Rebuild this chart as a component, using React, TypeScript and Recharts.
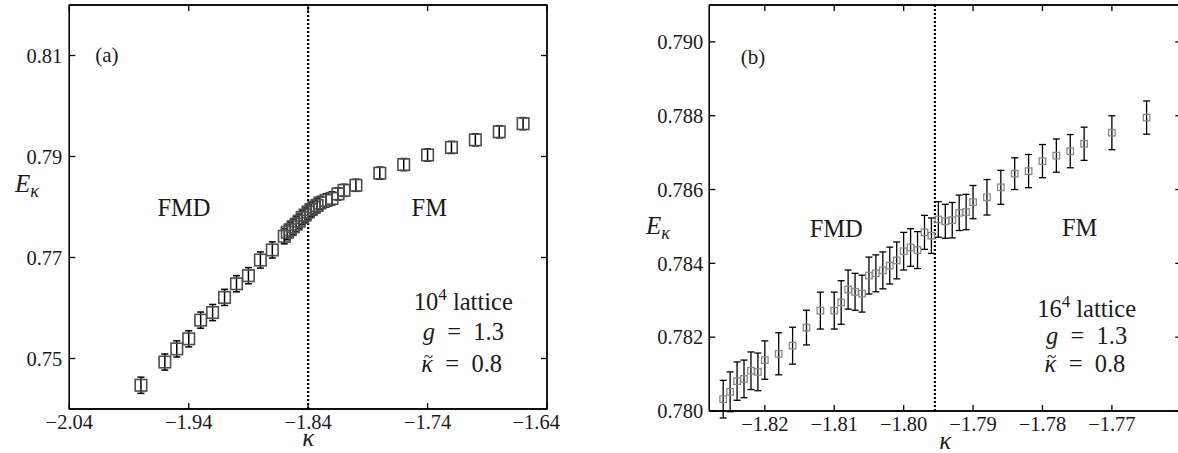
import React from 'react';
import { ScatterChart, Scatter, XAxis, YAxis, ErrorBar, ReferenceLine, ReferenceDot, ReferenceArea } from 'recharts';

// (a) 10^4 lattice
const kappaA = [-1.98, -1.96, -1.95, -1.94, -1.93, -1.92, -1.91, -1.90, -1.89, -1.88, -1.87, -1.86,
  -1.8575, -1.855, -1.8525, -1.85, -1.8475, -1.845, -1.8425, -1.84, -1.8375, -1.835, -1.8325, -1.83,
  -1.825, -1.82, -1.815, -1.81, -1.80, -1.78, -1.76, -1.74, -1.72, -1.70, -1.68, -1.66];
const energyA = [0.7447, 0.7493, 0.7519, 0.7539, 0.7576, 0.7591, 0.7621, 0.7648, 0.7664, 0.7695, 0.7715, 0.7742,
  0.7750, 0.7755, 0.7761, 0.7766, 0.7772, 0.7779, 0.7784, 0.7790, 0.7795, 0.7799, 0.7803, 0.7808,
  0.7813, 0.7817, 0.7826, 0.7833, 0.7843, 0.7867, 0.7884, 0.7903, 0.7918, 0.7933, 0.7949, 0.7965];
const errorA = [0.0016, 0.0016, 0.0016, 0.0016, 0.0016, 0.0016, 0.0016, 0.0016, 0.0016, 0.0016, 0.0016, 0.0015,
  0.0015, 0.0015, 0.0015, 0.0015, 0.0014, 0.0014, 0.0014, 0.0014, 0.0014, 0.0013, 0.0013, 0.0013,
  0.0013, 0.0013, 0.0012, 0.0012, 0.0012, 0.0012, 0.0012, 0.0012, 0.0012, 0.0012, 0.0012, 0.0012];

// (b) 16^4 lattice
const kappaB = [-1.826, -1.825, -1.824, -1.823, -1.822, -1.821, -1.820, -1.818, -1.816, -1.814, -1.812, -1.810,
  -1.809, -1.808, -1.807, -1.806, -1.805, -1.804, -1.803, -1.802, -1.801, -1.800, -1.799, -1.798,
  -1.797, -1.796, -1.795, -1.794, -1.793, -1.792, -1.791, -1.790, -1.788, -1.786, -1.784, -1.782,
  -1.780, -1.778, -1.776, -1.774, -1.770, -1.765];
const energyB = [0.78032, 0.78052, 0.78081, 0.78087, 0.78109, 0.78106, 0.78138, 0.78155, 0.78177, 0.78226, 0.78272, 0.78272,
  0.78294, 0.78329, 0.78323, 0.78318, 0.78367, 0.78373, 0.78381, 0.78394, 0.78408, 0.78433, 0.78443, 0.78436,
  0.78484, 0.78475, 0.78519, 0.78514, 0.78517, 0.78537, 0.78539, 0.78566, 0.78579, 0.78606, 0.78643, 0.78650,
  0.78677, 0.78692, 0.78704, 0.78724, 0.78754, 0.78795];
const errorB = [0.00051, 0.00054, 0.00052, 0.00051, 0.00051, 0.00051, 0.00052, 0.00057, 0.00050, 0.00047, 0.00050, 0.00050,
  0.00059, 0.00053, 0.00050, 0.00050, 0.00050, 0.00050, 0.00050, 0.00050, 0.00050, 0.00051, 0.00051, 0.00050,
  0.00046, 0.00048, 0.00048, 0.00046, 0.00048, 0.00048, 0.00048, 0.00045, 0.00048, 0.00046, 0.00043, 0.00045,
  0.00045, 0.00045, 0.00045, 0.00045, 0.00046, 0.00045];

const xTicksA = [-2.04, -1.94, -1.84, -1.74, -1.64];
const yTicksA = [0.75, 0.77, 0.79, 0.81];
const xTicksB = [-1.82, -1.81, -1.80, -1.79, -1.78, -1.77];
const yTicksB = [0.780, 0.782, 0.784, 0.786, 0.788, 0.790];

const transitionA = -1.84;
const transitionB = -1.7955;

const SERIF = '"Liberation Serif", "Times New Roman", serif';
const INK = '#1a1a1a';
const NB = '\u00A0';

const dataA = kappaA.map((k, i) => ({ x: k, y: energyA[i], err: errorA[i] }));
const dataB = kappaB.map((k, i) => ({ x: k, y: energyB[i], err: errorB[i] }));

const fmt = (digits: number) => (v: number) => v.toFixed(digits).replace('-', '\u2212');

const square = (size: number, color: string, sw: number) => (props: any) => (
  <rect x={props.cx - size / 2} y={props.cy - size / 2} width={size} height={size} fill="none" stroke={color} strokeWidth={sw} />
);
const nothing = () => <g />;

// text anchored at a reference dot (baseline at the dot)
const textAt = (kind: string, value: string) => (props: any) => {
  const { x, y } = props.viewBox;
  const common = { fontFamily: SERIF, fill: INK, fontSize: 24.5 };
  if (kind === 'lattice') {
    return (
      <text x={x} y={y} textAnchor="middle" {...common}>
        {value}<tspan fontSize={17} dy={-10}>4</tspan><tspan dy={10}>{NB}lattice</tspan>
      </text>
    );
  }
  if (kind === 'g') {
    return (
      <text x={x} y={y} textAnchor="middle" {...common}>
        <tspan fontStyle="italic">g</tspan>{NB}{NB}={NB}{NB}{value}
      </text>
    );
  }
  if (kind === 'kt') {
    const x0 = x - 42;
    return (
      <g>
        <text x={x0} y={y} textAnchor="start" {...common}>
          <tspan fontStyle="italic">{'\u03BA'}</tspan>{NB}{NB}={NB}{NB}{value}
        </text>
        <text x={x0 + 7} y={y - 10} textAnchor="middle" {...common} fontSize={17}>~</text>
      </g>
    );
  }
  return <text x={x} y={y} textAnchor="middle" {...common} fontSize={kind === 'tag' ? 21 : 24.5}>{value}</text>;
};

const yLabel = (dx: number, dy: number) => (props: any) => (
  <text x={props.viewBox.x + dx} y={props.viewBox.y + dy} textAnchor="middle" fontFamily={SERIF} fill={INK} fontSize={25} fontStyle="italic">
    E<tspan fontSize={18} dy={5}>{'\u03BA'}</tspan>
  </text>
);

const xLabel = (dy: number) => (props: any) => (
  <text x={props.viewBox.x + props.viewBox.width / 2} y={props.viewBox.y + dy} textAnchor="middle" fontFamily={SERIF} fill={INK} fontSize={25} fontStyle="italic">
    {'\u03BA'}
  </text>
);

interface Note { x: number; y: number; kind: string; value: string }

const notesA: Note[] = [
  { x: -2.0085, y: 0.80871, kind: 'tag', value: '(a)' },
  { x: -1.944, y: 0.77828, kind: 'plain', value: 'FMD' },
  { x: -1.7386, y: 0.77828, kind: 'plain', value: 'FM' },
  { x: -1.7101, y: 0.7596, kind: 'lattice', value: '10' },
  { x: -1.7101, y: 0.75366, kind: 'g', value: '1.3' },
  { x: -1.7101, y: 0.74739, kind: 'kt', value: '0.8' },
];

const notesB: Note[] = [
  { x: -1.82169, y: 0.789404, kind: 'tag', value: '(b)' },
  { x: -1.80972, y: 0.784724, kind: 'plain', value: 'FMD' },
  { x: -1.77465, y: 0.784743, kind: 'plain', value: 'FM' },
  { x: -1.77364, y: 0.782556, kind: 'lattice', value: '16' },
  { x: -1.77364, y: 0.781816, kind: 'g', value: '1.3' },
  { x: -1.77364, y: 0.781065, kind: 'kt', value: '0.8' },
];

interface PanelProps {
  left: number;
  width: number;
  marginRight: number;
  xAxisHeight: number;
  data: { x: number; y: number; err: number }[];
  xDomain: [number, number];
  yDomain: [number, number];
  xTicks: number[];
  yTicks: number[];
  xDigits: number;
  yDigits: number;
  yTickMargin: number;
  transition: number;
  markerSize: number;
  markerColor: string;
  markerWidth: number;
  barWidth: number;
  notes: Note[];
  yLabelPos: [number, number];
  xLabelDy: number;
}

function Panel(p: PanelProps) {
  const axisStyle = { stroke: '#000', strokeWidth: 1.3 };
  const tickStyle = { fontSize: 20.5, fontFamily: SERIF, fill: INK };
  return (
    <div style={{ position: 'absolute', left: p.left, top: 0 }}>
      <ScatterChart width={p.width} height={453} margin={{ top: 2, right: p.marginRight, bottom: 0, left: 0 }}>
        <XAxis xAxisId="b" type="number" dataKey="x" domain={p.xDomain} ticks={p.xTicks} allowDataOverflow
          height={p.xAxisHeight} tickSize={-6} tickMargin={11} tickFormatter={fmt(p.xDigits)}
          tick={tickStyle} axisLine={axisStyle} tickLine={axisStyle} label={xLabel(p.xLabelDy)} />
        <XAxis xAxisId="t" orientation="top" type="number" dataKey="x" domain={p.xDomain} ticks={p.xTicks} allowDataOverflow
          height={3} tickSize={-6} tick={nothing} axisLine={axisStyle} tickLine={axisStyle} />
        <YAxis yAxisId="l" type="number" dataKey="y" domain={p.yDomain} ticks={p.yTicks} allowDataOverflow
          width={69.3} tickSize={-6} tickMargin={p.yTickMargin} tickFormatter={fmt(p.yDigits)}
          tick={tickStyle} axisLine={axisStyle} tickLine={axisStyle} label={yLabel(p.yLabelPos[0], p.yLabelPos[1])} />
        <YAxis yAxisId="r" orientation="right" type="number" dataKey="y" domain={p.yDomain} ticks={p.yTicks} allowDataOverflow
          width={1} tickSize={-6} tick={nothing} axisLine={axisStyle} tickLine={axisStyle} />
        {/* silent twin series so the top and right frame axes are drawn */}
        <Scatter xAxisId="t" yAxisId="r" data={p.data} isAnimationActive={false} shape={nothing} />
        <ReferenceArea xAxisId="b" yAxisId="l" x1={p.xDomain[0]} x2={p.xDomain[1]} y1={p.yDomain[0]} y2={p.yDomain[1]}
          fill="none" stroke="#000" strokeWidth={1.3} ifOverflow="visible" />
        <ReferenceLine xAxisId="b" yAxisId="l" x={p.transition} stroke="#000" strokeWidth={2.2} strokeDasharray="2 2" />
        <Scatter xAxisId="b" yAxisId="l" data={p.data} isAnimationActive={false}
          shape={square(p.markerSize, p.markerColor, p.markerWidth)}>
          <ErrorBar dataKey="err" direction="y" width={3.5} stroke="#000" strokeWidth={p.barWidth} />
        </Scatter>
        {p.notes.map((n, i) => (
          <ReferenceDot key={i} xAxisId="b" yAxisId="l" x={n.x} y={n.y} r={0} fill="none" stroke="none"
            label={textAt(n.kind, n.value)} />
        ))}
      </ScatterChart>
    </div>
  );
}

export default function App() {
  return (
    <div style={{ position: 'absolute', left: 0, top: 0, width: 1178, height: 453, overflow: 'hidden', background: '#fff' }}>
      <Panel left={0} width={560} marginRight={12} xAxisHeight={44} data={dataA}
        xDomain={[-2.04, -1.64]} yDomain={[0.74, 0.82]} xTicks={xTicksA} yTicks={yTicksA}
        xDigits={2} yDigits={2} yTickMargin={13} transition={transitionA}
        markerSize={11.5} markerColor="#4d4d4d" markerWidth={1.6} barWidth={1.5}
        notes={notesA} yLabelPos={[27, 187]} xLabelDy={37} />
      <Panel left={640} width={542.3} marginRight={0} xAxisHeight={42} data={dataB}
        xDomain={[-1.828, -1.760]} yDomain={[0.780, 0.791]} xTicks={xTicksB} yTicks={yTicksB}
        xDigits={2} yDigits={3} yTickMargin={12} transition={transitionB}
        markerSize={6.5} markerColor="#8a8a8a" markerWidth={1.3} barWidth={1.3}
        notes={notesB} yLabelPos={[18, 229]} xLabelDy={38} />
    </div>
  );
}
